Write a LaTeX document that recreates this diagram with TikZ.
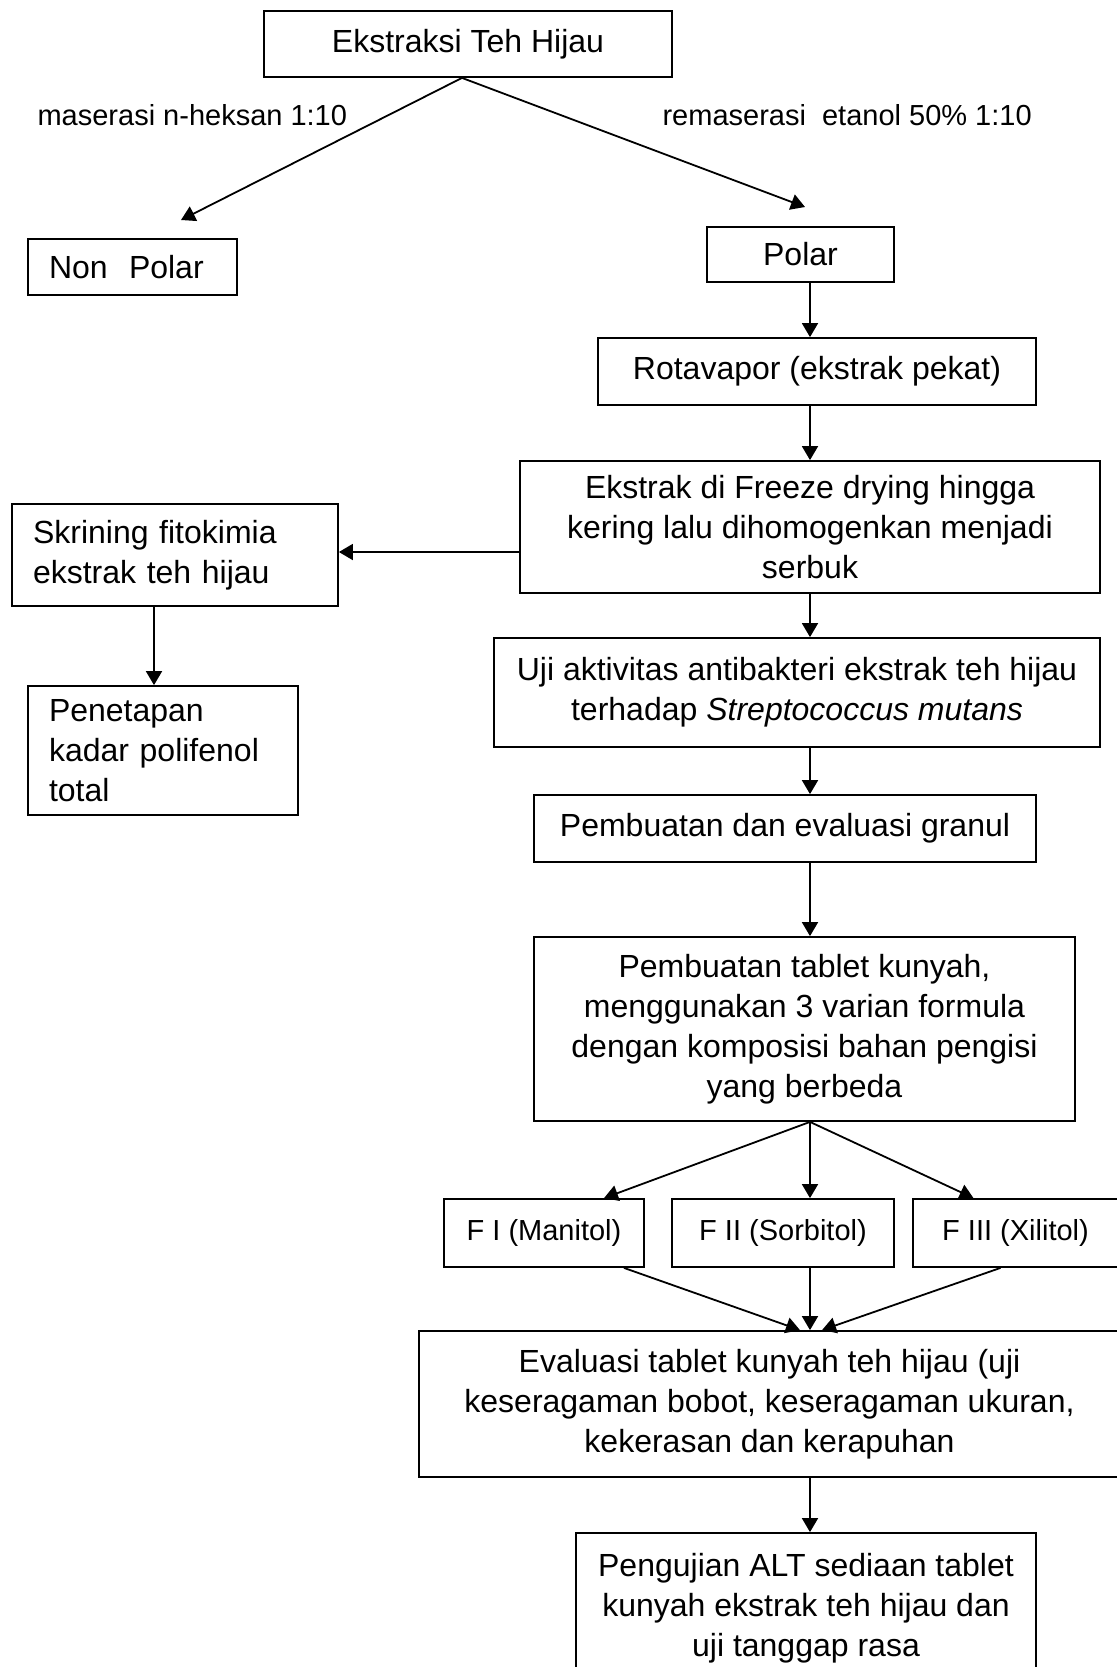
\documentclass[tikz,border=0pt]{standalone}
\usepackage{fontspec}
\setmainfont{Liberation Sans}
\usepackage{tikz}
\usetikzlibrary{
    calc,
    arrows.meta
}
\tikzset{
    box/.style={draw, inner sep=0pt, align=center, font=\fontsize{16}{20}\selectfont},
    lbox/.style={box, align=left, inner xsep=10.5pt},
    small/.style={font=\fontsize{14.5}{18}\selectfont},
    >={Triangle[length=7pt,width=8pt]}
}

\begin{document}
\begin{tikzpicture}[x=0.5pt, y=-0.5pt, line width=0.9pt]
        \useasboundingbox (0,0) rectangle (1117,1667);
        \coordinate (sp) at (810,0);
        \coordinate (lx) at (154,0);
        \coordinate (hy) at (0,552);

        \draw (468,44) node[box, minimum width=204pt, minimum height=33pt](eks){Ekstraksi Teh Hijau};
        \draw (30,115) node[small, anchor=west](lmas){maserasi n-heksan 1:10};
        \draw (655,115) node[small, anchor=west](lrem){remaserasi\ \ etanol 50\% 1:10};
        \draw (132.5,267) node[lbox, text width=83.5pt, minimum height=28pt](np){Non\ \ Polar};
        \draw (800.5,254.5) node[box, minimum width=93.5pt, minimum height=27.5pt](pol){Polar};
        \draw (817,371.5) node[box, minimum width=219pt, minimum height=33.5pt](rot){Rotavapor (ekstrak pekat)};
        \draw (810,527) node[box, minimum width=290pt, minimum height=66pt](frz){Ekstrak di Freeze drying hingga\\kering lalu dihomogenkan menjadi\\serbuk};
        \draw (175,555) node[lbox, text width=142pt, minimum height=51pt](skr){Skrining fitokimia\\ekstrak teh hijau};
        \draw (163,750.5) node[lbox, text width=114pt, minimum height=64.5pt](pen){Penetapan\\kadar polifenol\\total};
        \draw (797,692.5) node[box, minimum width=303pt, minimum height=54.5pt](uji){Uji aktivitas antibakteri ekstrak teh hijau\\terhadap \textit{Streptococcus mutans}};
        \draw (785,828.5) node[box, minimum width=251pt, minimum height=33.5pt](gra){Pembuatan dan evaluasi granul};
        \draw (804.5,1029) node[box, minimum width=270.5pt, minimum height=92pt](tab){Pembuatan tablet kunyah,\\menggunakan 3 varian formula\\dengan komposisi bahan pengisi\\yang berbeda};
        \draw (544,1233) node[box, small, minimum width=100pt, minimum height=34pt](f1){F I (Manitol)};
        \draw (783,1233) node[box, small, minimum width=111pt, minimum height=34pt](f2){F II (Sorbitol)};
        \draw (1015.5,1233) node[box, small, minimum width=102.5pt, minimum height=34pt](f3){F III (Xilitol)};
        \draw (769.5,1404) node[box, minimum width=350.5pt, minimum height=73pt](eva){Evaluasi tablet kunyah teh hijau (uji\\keseragaman bobot, keseragaman ukuran,\\kekerasan dan kerapuhan};
        \draw (806,1608) node[box, minimum width=230pt, minimum height=75pt](alt){Pengujian ALT sediaan tablet\\kunyah ekstrak teh hijau dan\\uji tanggap rasa};

        \coordinate (npt) at (181,220);
        \coordinate (polt) at (805,207);

        \draw[->] ($(eks.south)+(-6,0)$) to (npt);
        \draw[->] ($(eks.south)+(-6,0)$) to (polt);
        \draw[->] (pol.south -| sp) to (rot.north -| sp);
        \draw[->] (rot.south -| sp) to (frz.north -| sp);
        \draw[->] (frz.west |- hy) to[shorten >=2pt] (skr.east |- hy);
        \draw[->] (skr.south -| lx) to[shorten >=7pt] (pen.north -| lx);
        \draw[->] (frz.south -| sp) to (uji.north -| sp);
        \draw[->] (uji.south -| sp) to (gra.north -| sp);
        \draw[->] (gra.south -| sp) to[shorten >=9.5pt] (tab.north -| sp);
        \draw[->] (tab.south -| sp) to ($(f1.north)+(60,0)$);
        \draw[->] (tab.south -| sp) to (f2.north -| sp);
        \draw[->] (tab.south -| sp) to ($(f3.north)+(-42,0)$);
        \draw[->] ($(f1.south)+(80,0)$) to ($(eva.north -| sp)+(-10,0)$);
        \draw[->] (f2.south -| sp) to (eva.north -| sp);
        \draw[->] ($(f3.south)+(-15,0)$) to ($(eva.north -| sp)+(12,0)$);
        \draw[->] (eva.south -| sp) to (alt.north -| sp);
    \end{tikzpicture}
\end{document}
